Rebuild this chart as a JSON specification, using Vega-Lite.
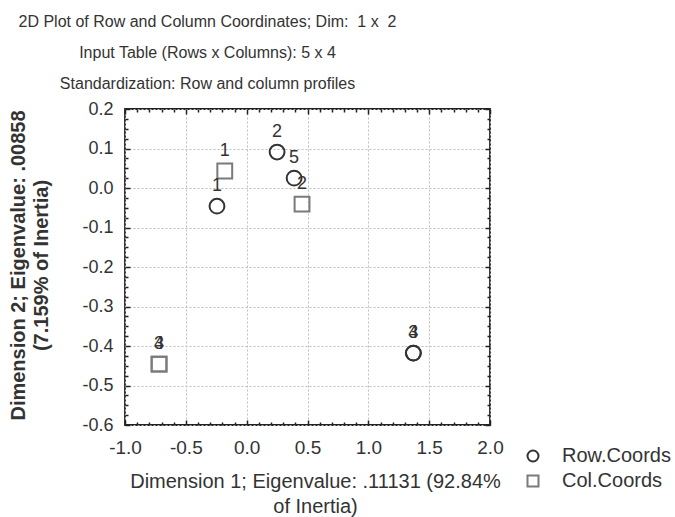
{
  "$schema": "https://vega.github.io/schema/vega-lite/v6.json",
  "autosize": {"type": "none"},
  "width": 365,
  "height": 316,
  "padding": {"left": 125, "top": 109, "right": 185, "bottom": 92},
  "background": "white",
  "title": {
    "text": ["2D Plot of Row and Column Coordinates; Dim:\u00a0 1 x\u00a0 2", "Input Table (Rows x Columns): 5 x 4", "Standardization: Row and column profiles"],
    "font": "Liberation Sans",
    "fontSize": 16,
    "fontWeight": "normal",
    "color": "#333333",
    "anchor": "middle",
    "dx": -100,
    "lineHeight": 31,
    "offset": 8
  },
  "data": {
    "values": [
      {"type": "Row.Coords", "label": "1", "dim1": -0.244, "dim2": -0.046},
      {"type": "Row.Coords", "label": "2", "dim1": 0.25, "dim2": 0.091},
      {"type": "Row.Coords", "label": "3", "dim1": 1.37, "dim2": -0.418},
      {"type": "Row.Coords", "label": "4", "dim1": 1.37, "dim2": -0.418},
      {"type": "Row.Coords", "label": "5", "dim1": 0.39, "dim2": 0.025},
      {"type": "Col.Coords", "label": "1", "dim1": -0.18, "dim2": 0.043},
      {"type": "Col.Coords", "label": "2", "dim1": 0.455, "dim2": -0.041},
      {"type": "Col.Coords", "label": "3", "dim1": -0.72, "dim2": -0.446},
      {"type": "Col.Coords", "label": "4", "dim1": -0.72, "dim2": -0.446}
    ]
  },
  "layer": [
    {
      "mark": {"type": "point", "filled": false, "strokeWidth": 2, "size": 220, "opacity": 1},
      "encoding": {
        "x": {
          "field": "dim1", "type": "quantitative",
          "scale": {"domain": [-1, 2], "nice": false, "zero": false},
          "axis": {
            "orient": "bottom",
            "values": [-1,-0.9,-0.8,-0.7,-0.6,-0.5,-0.4,-0.3,-0.2,-0.1,0,0.1,0.2,0.3,0.4,0.5,0.6,0.7,0.8,0.9,1,1.1,1.2,1.3,1.4,1.5,1.6,1.7,1.8,1.9,2],
            "labelExpr": "abs(datum.value*2 - round(datum.value*2)) < 0.000001 ? replace(format(datum.value, '.1f'), '\u2212', '-') : ''",
            "tickSize": {"condition": {"test": "abs(datum.value*2 - round(datum.value*2)) < 0.000001", "value": -5}, "value": -3},
            "tickColor": "#222222",
            "tickWidth": 1.5,
            "grid": true,
            "gridColor": "#bdbdbd",
            "gridDash": [2, 2],
            "gridOpacity": {"condition": {"test": "abs(datum.value*2 - round(datum.value*2)) < 0.000001", "value": 1}, "value": 0},
            "domain": false,
            "labelFontSize": 19,
            "labelColor": "#333333",
            "labelPadding": 18,
            "labelFlush": false,
            "labelOverlap": false,
            "title": ["Dimension 1; Eigenvalue: .11131 (92.84%", "of Inertia)"],
            "titleFontSize": 20,
            "titleFontWeight": "normal",
            "titleColor": "#333333",
            "titleLineHeight": 25,
            "titleAlign": "center",
            "titleBaseline": "alphabetic",
            "titleX": 190,
            "titleY": 62
          }
        },
        "y": {
          "field": "dim2", "type": "quantitative",
          "scale": {"domain": [-0.6, 0.2], "nice": false, "zero": false},
          "axis": {
            "orient": "left",
            "values": [-0.6,-0.575,-0.55,-0.525,-0.5,-0.475,-0.45,-0.425,-0.4,-0.375,-0.35,-0.325,-0.3,-0.275,-0.25,-0.225,-0.2,-0.175,-0.15,-0.125,-0.1,-0.075,-0.05,-0.025,0,0.025,0.05,0.075,0.1,0.125,0.15,0.175,0.2],
            "labelExpr": "abs(datum.value*10 - round(datum.value*10)) < 0.000001 ? replace(format(datum.value, '.1f'), '\u2212', '-') : ''",
            "tickSize": {"condition": {"test": "abs(datum.value*10 - round(datum.value*10)) < 0.000001", "value": -5}, "value": -3},
            "tickColor": "#222222",
            "tickWidth": 1.5,
            "grid": true,
            "gridColor": "#bdbdbd",
            "gridDash": [2, 2],
            "gridOpacity": {"condition": {"test": "abs(datum.value*10 - round(datum.value*10)) < 0.000001", "value": 1}, "value": 0},
            "domain": false,
            "labelFontSize": 18,
            "labelColor": "#333333",
            "labelPadding": 17,
            "labelFlush": false,
            "labelOverlap": false,
            "title": ["Dimension 2; Eigenvalue: .00858", "(7.159% of Inertia)"],
            "titleFontSize": 20,
            "titleFontWeight": "bold",
            "titleColor": "#333333",
            "titleLineHeight": 23.5,
            "titleAngle": -90,
            "titleAlign": "center",
            "titleBaseline": "alphabetic",
            "titleX": -101,
            "titleY": 156
          }
        },
        "shape": {
          "field": "type", "type": "nominal",
          "scale": {"domain": ["Row.Coords", "Col.Coords"], "range": ["circle", "square"]},
          "legend": {"orient": "none", "legendX": 398, "legendY": 337, "title": null, "labelFontSize": 20, "labelColor": "#333333", "symbolSize": 121, "symbolStrokeWidth": 2, "symbolFillColor": "transparent", "rowPadding": 5, "labelOffset": 19}
        },
        "stroke": {
          "field": "type", "type": "nominal",
          "scale": {"domain": ["Row.Coords", "Col.Coords"], "range": ["#333333", "#7a7a7a"]},
          "legend": {"orient": "none", "legendX": 398, "legendY": 337, "title": null, "labelFontSize": 20, "labelColor": "#333333", "symbolSize": 121, "symbolStrokeWidth": 2, "symbolFillColor": "transparent", "rowPadding": 5, "labelOffset": 19}
        }
      }
    },
    {
      "mark": {"type": "text", "dy": -20, "fontSize": 18, "color": "#333333"},
      "encoding": {
        "x": {
          "field": "dim1", "type": "quantitative",
          "axis": {
            "orient": "top",
            "values": [-1,-0.9,-0.8,-0.7,-0.6,-0.5,-0.4,-0.3,-0.2,-0.1,0,0.1,0.2,0.3,0.4,0.5,0.6,0.7,0.8,0.9,1,1.1,1.2,1.3,1.4,1.5,1.6,1.7,1.8,1.9,2],
            "labels": false,
            "tickSize": {"condition": {"test": "abs(datum.value*2 - round(datum.value*2)) < 0.000001", "value": -5}, "value": -3},
            "tickColor": "#222222",
            "tickWidth": 1.5,
            "grid": false,
            "domain": false,
            "title": null
          }
        },
        "y": {
          "field": "dim2", "type": "quantitative",
          "axis": {
            "orient": "right",
            "values": [-0.6,-0.575,-0.55,-0.525,-0.5,-0.475,-0.45,-0.425,-0.4,-0.375,-0.35,-0.325,-0.3,-0.275,-0.25,-0.225,-0.2,-0.175,-0.15,-0.125,-0.1,-0.075,-0.05,-0.025,0,0.025,0.05,0.075,0.1,0.125,0.15,0.175,0.2],
            "labels": false,
            "tickSize": {"condition": {"test": "abs(datum.value*10 - round(datum.value*10)) < 0.000001", "value": -5}, "value": -3},
            "tickColor": "#222222",
            "tickWidth": 1.5,
            "grid": false,
            "domain": false,
            "title": null
          }
        },
        "text": {"field": "label", "type": "nominal"}
      }
    }
  ],
  "resolve": {"axis": {"x": "independent", "y": "independent"}},
  "config": {
    "font": "Liberation Sans",
    "view": {"stroke": "#222222", "strokeWidth": 1.8}
  }
}
